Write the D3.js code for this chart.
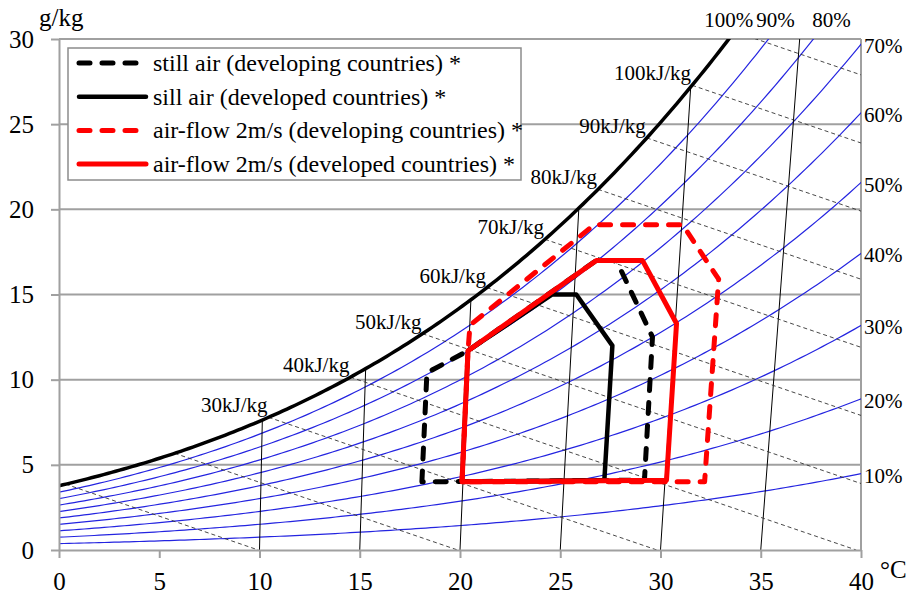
<!DOCTYPE html>
<html><head><meta charset="utf-8">
<script src="https://cdn.jsdelivr.net/npm/d3@7/dist/d3.min.js"></script>
<style>
body{margin:0;background:#fff}
svg, svg text{font-family:"Liberation Serif","Times New Roman","DejaVu Serif",serif !important;fill:#000}
</style>
</head><body>
<svg id="chart" width="906" height="595"></svg>
<script>
// ---------- data ----------
const xTicks = [0, 5, 10, 15, 20, 25, 30, 35, 40];
const yTicks = [0, 5, 10, 15, 20, 25, 30];
const rhCurves = [0.1, 0.2, 0.3, 0.4, 0.5, 0.6, 0.7, 0.8, 0.9];
const rhRightLabels = [10, 20, 30, 40, 50, 60, 70];
const rhTopLabels = [100, 90, 80];
const enthalpyLines = [10, 20, 30, 40, 50, 60, 70, 80, 90, 100, 110];
const enthalpyLabels = [30, 40, 50, 60, 70, 80, 90, 100];
const isotherms = [10, 15, 20, 25, 30, 35];

const seriesNames = [
  "still air (developing countries) *",
  "sill air (developed countries) *",
  "air-flow 2m/s (developing countries) *",
  "air-flow 2m/s (developed countries) *"
];
// polygons: temperature (°C) and humidity ratio (g/kg)
const stillDevelopingT = [18.1, 18.35, 20.4, 26.8, 27.8, 29.6, 29.2, 18.1];
const stillDevelopingW = [4.0, 10.4, 11.7, 17.0, 17.0, 12.5, 4.1, 4.0];
const stillDevelopedT  = [20.1, 20.4, 24.6, 25.8, 27.6, 27.2, 20.1];
const stillDevelopedW  = [4.0, 11.7, 15.0, 15.0, 12.0, 4.1, 4.0];
const flowDevelopingT  = [20.1, 20.4, 20.5, 26.7, 31.1, 32.9, 32.2, 20.1];
const flowDevelopingW  = [4.0, 11.7, 13.2, 19.1, 19.1, 15.9, 4.0, 4.0];
const flowDevelopedT   = [20.1, 20.4, 26.8, 29.1, 30.8, 30.3, 20.1];
const flowDevelopedW   = [4.0, 11.7, 17.0, 17.0, 13.3, 4.1, 4.0];

// ---------- psychrometrics ----------
const P = 101.325;
const ps = T => 0.61078 * Math.exp(17.27 * T / (T + 237.3));
const wOf = (phi, T) => 622 * phi * ps(T) / (P - phi * ps(T));
const chartX = (T, w) => T * (1 + 0.00186 * w / 1.006);
const enth = (T, w) => 1.006 * T + w * (2501 + 1.86 * T) / 1000;
function solve(f, a, b) { for (let i = 0; i < 80; i++) { const m = (a + b) / 2; if (f(a) * f(m) <= 0) b = m; else a = m; } return (a + b) / 2; }

// ---------- layout ----------
const FONT = '"Liberation Serif","Times New Roman","DejaVu Serif",serif';
const svg = d3.select("#chart").attr("font-family", FONT);
const x = d3.scaleLinear().domain([0, 40]).range([59, 861]);
const y = d3.scaleLinear().domain([0, 30]).range([550, 39]);
const grey = "#a0a0a0";

svg.append("defs").append("clipPath").attr("id", "plot")
  .append("rect").attr("x", x(0)).attr("y", y(30)).attr("width", x(40) - x(0)).attr("height", y(0) - y(30));

// gridlines
svg.append("g").selectAll("line").data(yTicks.filter(d => d > 0)).join("line")
  .attr("x1", x(0)).attr("x2", x(40)).attr("y1", d => y(d)).attr("y2", d => y(d))
  .attr("stroke", grey).attr("stroke-width", 2);
svg.append("line").attr("x1", x(40)).attr("x2", x(40)).attr("y1", y(0)).attr("y2", y(30))
  .attr("stroke", grey).attr("stroke-width", 2);

const plot = svg.append("g").attr("clip-path", "url(#plot)");
const line = d3.line().x(d => x(d[0])).y(d => y(d[1]));

// RH curves
const Ts = d3.range(0, 45.01, 0.25);
plot.append("g").selectAll("path").data(rhCurves).join("path")
  .attr("d", phi => line(Ts.map(T => { const w = wOf(phi, T); return [chartX(T, w), w]; })))
  .attr("fill", "none").attr("stroke", "#2424e0").attr("stroke-width", 1.2);

// isotherms
plot.append("g").selectAll("line").data(isotherms).join("line")
  .attr("x1", T => x(T)).attr("y1", y(0))
  .attr("x2", T => x(chartX(T, wOf(1, T)))).attr("y2", T => y(wOf(1, T)))
  .attr("stroke", "#000").attr("stroke-width", 1);

// enthalpy lines
function satPointH(h) {
  const T = solve(t => enth(t, wOf(1, t)) - h, -20, 60);
  const w = wOf(1, T);
  return [chartX(T, w), w];
}
plot.append("g").selectAll("line").data(enthalpyLines).join("line")
  .attr("x1", h => x(satPointH(h)[0])).attr("y1", h => y(satPointH(h)[1]))
  .attr("x2", h => x(h / 1.006)).attr("y2", y(0))
  .attr("stroke", "#333").attr("stroke-width", 0.9).attr("stroke-dasharray", "4,3");

// saturation curve
const Tsat = d3.range(0, 34.01, 0.2);
plot.append("path")
  .attr("d", line(Tsat.map(T => { const w = wOf(1, T); return [chartX(T, w), w]; })))
  .attr("fill", "none").attr("stroke", "#000").attr("stroke-width", 3.5);

// axes
const yAxis = svg.append("g").attr("transform", `translate(${x(0)},0)`)
  .call(d3.axisLeft(y).tickValues(yTicks).tickSize(8).tickSizeOuter(0).tickPadding(17));
const xAxis = svg.append("g").attr("transform", `translate(0,${y(0)})`)
  .call(d3.axisBottom(x).tickValues(xTicks).tickSize(8).tickSizeOuter(0).tickPadding(14));
[yAxis, xAxis].forEach(a => {
  a.attr("font-family", FONT).attr("font-size", 25);
  a.select(".domain").attr("stroke", grey).attr("stroke-width", 2);
  a.selectAll(".tick line").attr("stroke", grey).attr("stroke-width", 2);
  a.selectAll(".tick text").attr("fill", "#000");
});

// unit labels
svg.append("text").attr("x", 39).attr("y", 26).attr("font-size", 25).text("g/kg");
svg.append("text").attr("x", 880).attr("y", 578).attr("font-size", 25).text("°C");

// enthalpy labels
svg.append("g").selectAll("text").data(enthalpyLabels).join("text")
  .attr("x", h => x(satPointH(h)[0]) - 1).attr("y", h => y(satPointH(h)[1]) - 5)
  .attr("text-anchor", "end").attr("font-size", 21).text(h => h + "kJ/kg");

// RH labels on the right edge
function rightY(pct) {
  const phi = pct / 100;
  const T = solve(t => chartX(t, wOf(phi, t)) - 40, 0, 45);
  return Math.min(wOf(phi, T), 30.2);
}
svg.append("g").selectAll("text").data(rhRightLabels).join("text")
  .attr("x", x(40) + 3).attr("y", p => y(rightY(p)) + 2)
  .attr("dominant-baseline", "central").attr("font-size", 21).text(p => p + "%");

// RH labels above the top edge
const topShift = [0, 7, 18];
function topX(pct) {
  const phi = pct / 100;
  const T = solve(t => wOf(phi, t) - 30, 0, 45);
  return chartX(T, 30);
}
svg.append("g").selectAll("text").data(rhTopLabels).join("text")
  .attr("x", (p, i) => x(topX(p)) + topShift[i]).attr("y", 27)
  .attr("text-anchor", "middle").attr("font-size", 21).text(p => p + "%");

// data polygons
const series = [
  { t: stillDevelopingT, w: stillDevelopingW, color: "#000", dash: "11,12", width: 5 },
  { t: stillDevelopedT,  w: stillDevelopedW,  color: "#000", dash: null,    width: 4.5 },
  { t: flowDevelopingT,  w: flowDevelopingW,  color: "#ff0000", dash: "11,12", width: 5 },
  { t: flowDevelopedT,   w: flowDevelopedW,   color: "#ff0000", dash: null,    width: 5 }
];
svg.append("g").selectAll("path").data(series).join("path")
  .attr("d", s => line(s.t.map((T, i) => [T, s.w[i]])))
  .attr("fill", "none").attr("stroke", s => s.color).attr("stroke-width", s => s.width)
  .attr("stroke-dasharray", s => s.dash).attr("stroke-linecap", s => s.dash ? "round" : "butt")
  .attr("stroke-linejoin", "round");

// legend
const lg = svg.append("g");
lg.append("rect").attr("x", 68).attr("y", 48).attr("width", 453).attr("height", 132)
  .attr("fill", "#fff").attr("stroke", "#8c8c8c").attr("stroke-width", 1.5);
const rows = lg.selectAll("g.row").data(series).join("g").attr("class", "row")
  .attr("transform", (d, i) => `translate(0,${63 + i * 33.7})`);
rows.append("line").attr("x1", 79).attr("x2", 146).attr("y1", 0).attr("y2", 0)
  .attr("stroke", s => s.color).attr("stroke-width", s => s.width)
  .attr("stroke-dasharray", s => s.dash).attr("stroke-linecap", "round");
rows.append("text").attr("x", 153).attr("y", 0).attr("dominant-baseline", "central")
  .attr("font-size", 24).text((d, i) => seriesNames[i]);
</script>
</body></html>
